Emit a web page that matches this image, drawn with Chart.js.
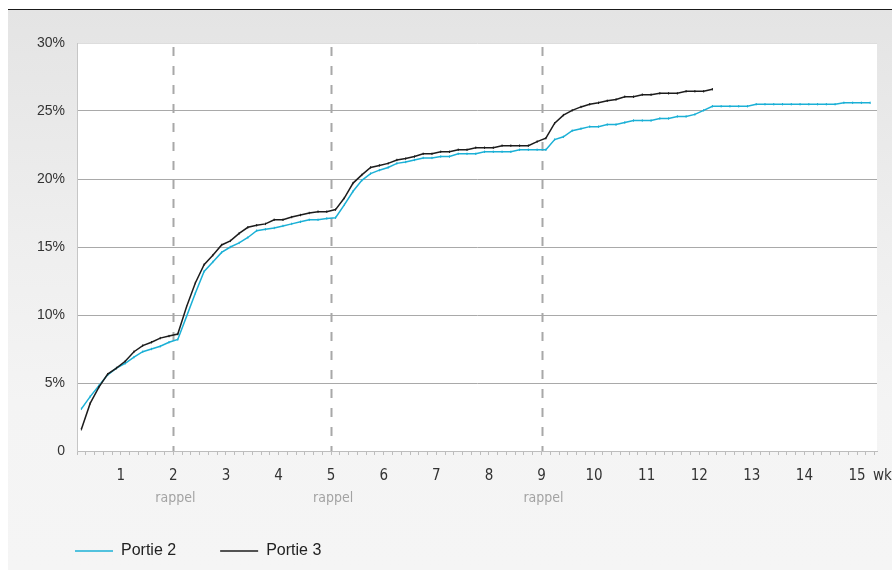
<!DOCTYPE html>
<html>
<head>
<meta charset="utf-8">
<script src="https://cdn.jsdelivr.net/npm/chart.js@4.4.0/dist/chart.umd.min.js"></script>
<style>
  html, body { margin: 0; padding: 0; background: #fff; }
  #panel {
    position: absolute; left: 8px; top: 9px; width: 884px; height: 561px;
    box-sizing: border-box; border-top: 1px solid #1a1a1a;
    background: linear-gradient(to bottom, #e4e4e4 0%, #eeeeee 40%, #f4f4f4 70%, #f5f5f5 100%);
  }
  #wrap { position: absolute; left: 0; top: 0; width: 892px; height: 570px; }
</style>
</head>
<body>
<div id="panel"></div>
<div id="wrap"><canvas id="chart" width="892" height="570"></canvas></div>
<script>
// measurements: 6 per week, first one a quarter week in
const metingenPerWeek = 6;
const weken = [1, 2, 3, 4, 5, 6, 7, 8, 9, 10, 11, 12, 13, 14, 15];
const rappelWeken = [2, 5, 9];
const yTicks = [0, 5, 10, 15, 20, 25, 30];

// Portie 2 (%)
const portie2 = [
  3.1, 4.0, 4.8, 5.6, 6.1, 6.45, 6.9, 7.3, 7.5, 7.7, 8.0, 8.2,
  9.9, 11.6, 13.2, 13.9, 14.6, 15.0, 15.3, 15.7, 16.2, 16.3, 16.4, 16.55,
  16.7, 16.85, 17.0, 17.0, 17.1, 17.15, 18.1, 19.1, 19.9, 20.4, 20.65, 20.85,
  21.15, 21.25, 21.4, 21.55, 21.55, 21.65, 21.65, 21.85, 21.85, 21.85, 22.0, 22.0,
  22.0, 22.0, 22.15, 22.15, 22.15, 22.15, 22.9, 23.1, 23.55, 23.7, 23.85, 23.85,
  24.0, 24.0, 24.15, 24.3, 24.3, 24.3, 24.45, 24.45, 24.6, 24.6, 24.75, 25.05,
  25.35, 25.35, 25.35, 25.35, 25.35, 25.5, 25.5, 25.5, 25.5, 25.5, 25.5, 25.5,
  25.5, 25.5, 25.5, 25.6, 25.6, 25.6, 25.6
];

// Portie 3 (%)
const portie3 = [
  1.6, 3.5, 4.7, 5.65, 6.1, 6.6, 7.3, 7.75, 8.0, 8.3, 8.45, 8.6,
  10.6, 12.35, 13.7, 14.4, 15.15, 15.45, 16.0, 16.45, 16.6, 16.7, 17.0, 17.0,
  17.2, 17.35, 17.5, 17.6, 17.6, 17.75, 18.6, 19.7, 20.3, 20.85, 21.0, 21.15,
  21.4, 21.5, 21.65, 21.85, 21.85, 22.0, 22.0, 22.15, 22.15, 22.3, 22.3, 22.3,
  22.45, 22.45, 22.45, 22.45, 22.75, 23.0, 24.1, 24.7, 25.05, 25.3, 25.5, 25.6,
  25.75, 25.85, 26.05, 26.05, 26.2, 26.2, 26.3, 26.3, 26.3, 26.45, 26.45, 26.45,
  26.6
];

const toPoints = arr => arr.map((v, i) => ({ x: (i + 1.5) / metingenPerWeek, y: v }));

const narrowFont = '"Liberation Sans Narrow", "DejaVu Sans Condensed", sans-serif';
Chart.defaults.font.family = '"Liberation Sans", Arial, sans-serif';

// ----------------- PLUGINS -----------------

const decor = {
  id: 'decor',
  beforeDraw(chart) {
    const { ctx, chartArea: a } = chart;
    ctx.save();
    ctx.fillStyle = '#ffffff';
    ctx.fillRect(a.left, a.top, a.right - a.left, a.bottom - a.top);
    ctx.restore();
  },
  beforeDatasetsDraw(chart) {
    const { ctx, chartArea: a, scales: { x } } = chart;
    ctx.save();
    ctx.strokeStyle = '#a8a8a8';
    ctx.lineWidth = 2;
    ctx.setLineDash([9, 10]);
    rappelWeken.forEach(w => {
      const px = Math.round(x.getPixelForValue(w)) + 0.5;
      ctx.beginPath();
      ctx.moveTo(px, a.top + 4);
      ctx.lineTo(px, a.bottom);
      ctx.stroke();
    });
    ctx.restore();
  },
  afterDraw(chart) {
    const { ctx, scales: { x } } = chart;
    ctx.save();
    ctx.textBaseline = 'middle';
    // rappel labels
    ctx.font = '14px ' + narrowFont;
    ctx.fillStyle = '#a3a3a3';
    ctx.textAlign = 'center';
    rappelWeken.forEach(w => ctx.fillText('rappel', x.getPixelForValue(w) + 2, 498));
    // unit
    ctx.font = '15px ' + narrowFont;
    ctx.fillStyle = '#333333';
    ctx.textAlign = 'left';
    ctx.fillText('wk', 873, 476);
    // legend
    ctx.font = '16px "Liberation Sans", Arial, sans-serif';
    let lx = 75;
    chart.data.datasets.forEach(ds => {
      ctx.strokeStyle = ds.borderColor;
      ctx.lineWidth = 1.5;
      ctx.beginPath();
      ctx.moveTo(lx, 551);
      ctx.lineTo(lx + 38, 551);
      ctx.stroke();
      ctx.fillStyle = '#222222';
      ctx.fillText(ds.label, lx + 46, 551);
      lx += 46 + ctx.measureText(ds.label).width + 44;
    });
    ctx.restore();
  }
};

// ----------------- CHART -----------------

const chart = new Chart(document.getElementById('chart').getContext('2d'), {
  type: 'line',
  data: {
    datasets: [{
      label: 'Portie 2',
      data: toPoints(portie2),
      borderColor: '#1bb0d6',
      backgroundColor: '#1bb0d6',
      borderWidth: 1.5,
      pointStyle: 'line',
      rotation: 90,
      pointRadius: 1.2,
      pointBorderWidth: 1,
      order: 1
    }, {
      label: 'Portie 3',
      data: toPoints(portie3),
      borderColor: '#1c1c1c',
      backgroundColor: '#1c1c1c',
      borderWidth: 1.5,
      pointStyle: 'line',
      rotation: 90,
      pointRadius: 1.2,
      pointBorderWidth: 1,
      order: 0
    }]
  },
  options: {
    responsive: false,
    animation: false,
    devicePixelRatio: 1,
    layout: { padding: { left: 0, top: 43, right: 15, bottom: 0 } },
    plugins: { legend: { display: false }, tooltip: { enabled: false } },
    scales: {
      x: {
        type: 'linear',
        min: 1 / metingenPerWeek,
        max: 15.38,
        afterBuildTicks: scale => {
          const ticks = [];
          for (let j = 1; j / metingenPerWeek <= scale.max + 1e-9; j++) {
            ticks.push({ value: j / metingenPerWeek });
          }
          scale.ticks = ticks;
        },
        afterFit: scale => { scale.height = 119; },
        ticks: {
          autoSkip: false,
          maxRotation: 0,
          padding: 12,
          color: '#333333',
          font: { family: narrowFont, size: 15 },
          callback: value => {
            const w = Math.round(value);
            return Math.abs(value - w) < 1e-6 && weken.includes(w) ? String(w) : '';
          }
        },
        grid: { drawOnChartArea: false, drawTicks: true, tickLength: 4, tickColor: '#bdbdbd' },
        border: { color: '#bdbdbd', width: 1 }
      },
      y: {
        min: 0,
        max: 30,
        afterBuildTicks: scale => { scale.ticks = yTicks.map(v => ({ value: v })); },
        afterFit: scale => { scale.width = 77; },
        ticks: {
          padding: 12,
          color: '#333333',
          font: { size: 14 },
          callback: v => (v === 0 ? '0' : v + '%')
        },
        grid: {
          drawTicks: false,
          color: ctx => (ctx.tick && ctx.tick.value === 30 ? '#dddddd' : '#a9a9a9')
        },
        border: { color: '#c6c6c6', width: 1 }
      }
    }
  },
  plugins: [decor]
});
</script>
</body>
</html>
